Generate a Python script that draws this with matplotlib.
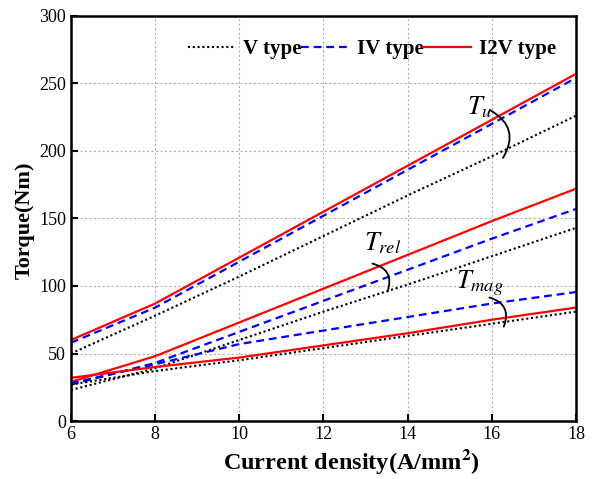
import matplotlib
matplotlib.use("Agg")
import matplotlib.pyplot as plt

# current density samples (A/mm^2)
current = [6, 8, 10, 12, 14, 16, 18]

# torque components (Nm)
tu_v = [50, 78, 107, 137, 167, 196, 226]
tu_iv = [58, 84, 118, 152, 186, 220, 254]
tu_i2v = [60, 87, 121, 155, 189, 223, 257]

trel_v = [23, 39, 60, 81, 101, 122, 143]
trel_iv = [27, 43, 66, 89, 112, 135, 157]
trel_i2v = [29, 48, 73, 98, 123, 148, 172]

tmag_v = [27, 37, 45, 54, 63, 72, 81]
tmag_iv = [28, 42, 57, 67, 77, 87, 95.5]
tmag_i2v = [32, 40, 47, 56, 65, 75, 84]

labels = ["V type", "IV type", "I2V type"]

plt.rcParams["font.family"] = ["Liberation Serif", "DejaVu Serif"]
plt.rcParams["mathtext.fontset"] = "stix"

fig = plt.figure(figsize=(5.99, 4.79), dpi=100)
ax = fig.add_axes([0.1185, 0.121, 0.843, 0.846])

styles = [
    dict(color="black", linestyle=(0, (1, 1.3)), linewidth=1.5),
    dict(color="blue", linestyle=(0, (3.5, 2.2)), linewidth=1.6),
    dict(color="red", linestyle="-", linewidth=1.6),
]

groups = [
    (tu_v, tu_iv, tu_i2v),
    (trel_v, trel_iv, trel_i2v),
    (tmag_v, tmag_iv, tmag_i2v),
]

for g_index, group in enumerate(groups):
    for s_index, series in enumerate(group):
        label = labels[s_index] if g_index == 0 else None
        ax.plot(current, series, label=label, **styles[s_index])

ax.set_xlim(6, 18)
ax.set_ylim(0, 300)
ax.set_xticks(range(6, 19, 2))
ax.set_yticks(range(0, 301, 50))
ax.grid(True, color="#b0b0b0", linestyle=(0, (2, 2)), linewidth=0.8)
ax.tick_params(direction="in", length=5, width=1.5, labelsize=13)
for spine in ax.spines.values():
    spine.set_linewidth(1.8)

ax.set_xlabel("Current density(A/mm$^\\mathbf{2}$)", fontsize=17.5, fontweight="bold")
ax.xaxis.set_label_coords(0.555, -0.065)
ax.set_ylabel("Torque(Nm)", fontsize=16, fontweight="bold")
ax.yaxis.set_label_coords(-0.071, 0.496)

# component labels with bracket arcs
ax.text(15.72, 232, "$T_u$", fontsize=19, ha="center", va="center")
ax.annotate("", xy=(16.23, 193), xytext=(15.91, 231),
            arrowprops=dict(arrowstyle="-", color="black", lw=1.3,
                            connectionstyle="arc3,rad=-0.55"))

ax.text(13.4, 132, "$T_{rel}$", fontsize=19, ha="center", va="center")
ax.annotate("", xy=(13.5, 94), xytext=(13.1, 117),
            arrowprops=dict(arrowstyle="-", color="black", lw=1.3,
                            connectionstyle="arc3,rad=-0.6"))

ax.text(15.72, 102, "$T_{mag}$", fontsize=19, ha="center", va="center")
ax.annotate("", xy=(16.26, 68), xytext=(15.88, 92),
            arrowprops=dict(arrowstyle="-", color="black", lw=1.3,
                            connectionstyle="arc3,rad=-0.6"))

ax.legend(loc="center right", bbox_to_anchor=(0.96, 0.918), ncol=3, frameon=False,
          prop=dict(weight="bold", size=15), handlelength=2.3,
          columnspacing=0.0, handletextpad=0.35, borderpad=0, borderaxespad=0)

fig.savefig("out.png", dpi=100)
